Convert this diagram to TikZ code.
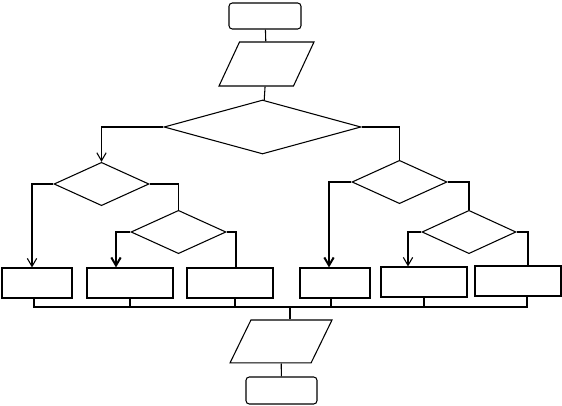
\documentclass[tikz,border=0pt]{standalone}
\usepackage{tikz}
\usetikzlibrary{arrows.meta, positioning, shapes.geometric}
\tikzset{
  blkterm/.style = {draw, rounded corners=2.5pt, minimum width=54pt,
                    minimum height=19.5pt, inner sep=0pt},
  blkio/.style   = {draw, trapezium, trapezium left angle=65,
                    trapezium right angle=115, trapezium stretches body,
                    minimum width=71.25pt, inner xsep=0pt, inner ysep=16.5pt},
  blkdec/.style  = {draw, diamond, minimum width=71.25pt,
                    minimum height=32.5pt, inner sep=0pt},
  blkproc/.style = {draw, minimum width=64.5pt, minimum height=22.5pt,
                    inner sep=0pt},
  link/.style    = {line width=0.8pt},
  flow/.style    = {line width=0.8pt, -{Straight Barb[length=6pt, width=7pt]}},
  flowb/.style   = {line width=1.5pt, -{Straight Barb[length=6pt, width=7pt]}},
}
\begin{document}
\begin{tikzpicture}[x=0.75pt, y=-0.75pt, line width=0.8pt]
    \useasboundingbox (0,0) rectangle (562,406);
    % top : start, input, main test
    \node[blkterm]                          (start) at (265,16)    {};
    \node[blkio]                            (inp)   at (266.5,64)  {};
    \node[blkdec, minimum width=147.75pt,
          minimum height=40.5pt]            (dmain) at (262.5,127) {};
    % left branch
    \node[blkdec]                           (dl1)   at (101.5,184) {};
    \node[blkdec]                           (dl2)   at (178.5,232) {};
    % right branch
    \node[blkdec]                           (dr1)   at (399.5,182) {};
    \node[blkdec, minimum width=70.5pt]     (dr2)   at (469,232)   {};
    % row of boxes
    \node[blkproc, minimum width=52.5pt]    (b1)    at (37,283)    {};
    \node[blkproc]                          (b2)    at (130,283)   {};
    \node[blkproc]                          (b3)    at (230,283)   {};
    \node[blkproc, minimum width=52.5pt]    (b4)    at (335,283)   {};
    \node[blkproc]                          (b5)    at (424,282)   {};
    \node[blkproc]                          (b6)    at (518,281)   {};
    % bottom : output, end
    \coordinate                             (bus)   at (290,307);
    \node[blkio, minimum width=76.5pt, inner ysep=16.1pt,
          trapezium left angle=64,
          trapezium right angle=116]        (outp)  at (281,341.5) {};
    \node[blkterm, minimum width=53.25pt,
          minimum height=20.25pt]           (stop)  at (281.5,390.5) {};

    \draw[link] (start) -- (inp);
    \draw[link] (inp) -- (dmain);
    \draw[flow] (dmain.west) -| (dl1.north);
    \draw[link] (dmain.east) -| (dr1.north);

    \draw[flow]  (dl1.west) -| ([xshift=-3.75pt]b1.north);
    \draw[link]  (dl1.east) -| (dl2.north);
    \draw[flowb] (dl2.west) -| ([xshift=-10.5pt]b2.north);
    \draw[link]  (dl2.east) -| ([xshift=4.5pt]b3.north);

    \draw[flowb] (dr1.west) -| ([xshift=-4.5pt]b4.north);
    \draw[link]  (dr1.east) -| (dr2.north);
    \draw[flow]  (dr2.west) -| ([xshift=-12pt]b5.north);
    \draw[link]  (dr2.east) -| ([xshift=7.5pt]b6.north);

    % collecting line
    \draw[link] ([xshift=-2.25pt]b1.south) -- ([xshift=-2.25pt]b1.south |- bus)
                -- ([xshift=6.75pt]b6.south |- bus) -- ([xshift=6.75pt]b6.south);
    \draw[link] (b2.south) -- (b2.south |- bus);
    \draw[link] ([xshift=3.75pt]b3.south) -- ([xshift=3.75pt]b3.south |- bus);
    \draw[link] ([xshift=-3pt]b4.south) -- ([xshift=-3pt]b4.south |- bus);
    \draw[link] (b5.south) -- (b5.south |- bus);
    \draw[link] (bus) -- (bus |- outp.north);
    \draw[link] (outp) -- (stop);
\end{tikzpicture}
\end{document}
